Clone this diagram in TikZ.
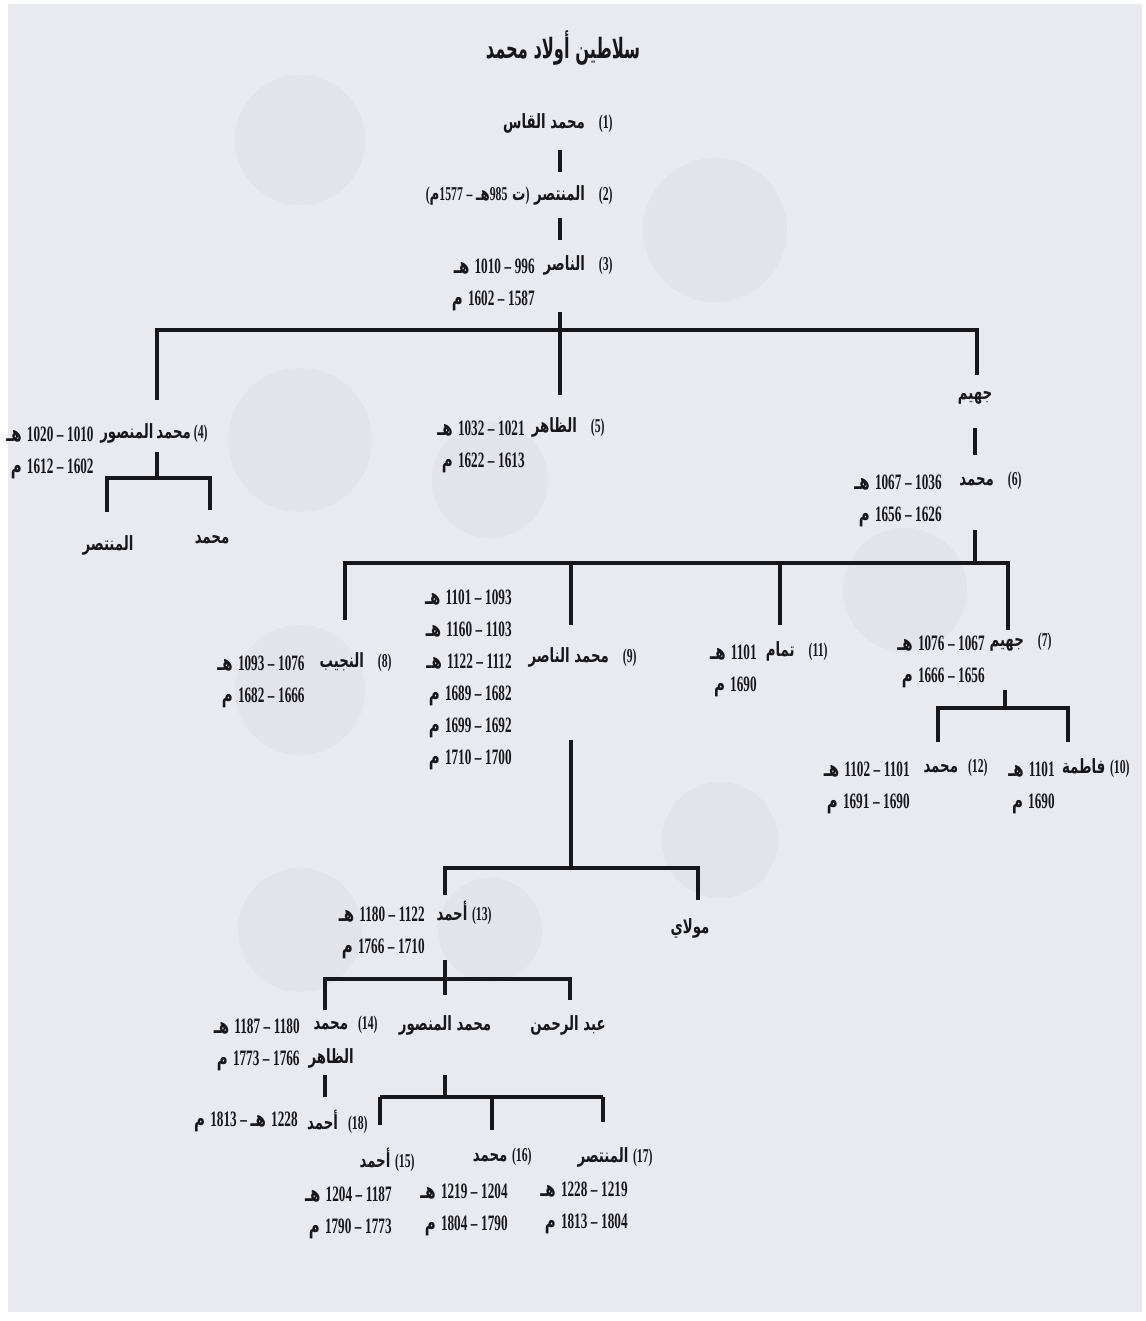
\documentclass[tikz,border=0pt]{standalone}
\usepackage{fontspec}
\TeXXeTstate=1
\newfontfamily\arabicfont[Script=Arabic,FakeStretch=0.68]{DejaVu Sans}
\newfontfamily\titlefont[Script=Arabic,FakeStretch=0.58]{DejaVu Sans}
\newfontfamily\numfont[FakeStretch=0.6]{Liberation Serif}
\newcommand\ar[1]{{\arabicfont\beginR #1\endR}}
\newcommand\nm[1]{{\numfont #1}}
\newcommand\ds{\hspace{1.8pt}\nm{–}\hspace{1.8pt}}
\definecolor{paper}{HTML}{E9EAF0}
\definecolor{ink}{HTML}{17171B}
\definecolor{coin}{HTML}{E3E4EA}
\tikzset{
  nm/.style={anchor=east, inner sep=0pt, text=ink, font=\fontsize{9.8}{14}\selectfont\bfseries},
  lbl/.style={anchor=center, inner sep=0pt, text=ink, font=\fontsize{9.8}{14}\selectfont\bfseries},
  dt/.style={anchor=north east, align=right, inner sep=0pt, text=ink, font=\fontsize{11}{16}\selectfont\bfseries},
  link/.style={line width=1.6pt, draw=ink},
  ttl/.style={anchor=center, inner sep=0pt, text=ink, font=\fontsize{14}{18}\selectfont\bfseries},
}
\begin{document}
\begin{tikzpicture}[x=0.5pt,y=-0.5pt]
\useasboundingbox (0,0) rectangle (1145,1321);
\fill[white] (0,0) rectangle (1145,1321);
\fill[paper] (8,4) rectangle (1142,1312);
% faint coins
\foreach \cx/\cy/\r in {300/140/65, 715/230/72, 300/440/72, 490/480/58, 905/590/62, 300/690/65, 720/840/58, 300/930/62, 490/930/52}
  \fill[coin] (\cx,\cy) circle (\r);

\node[ttl] (title) at (563,48) {{\titlefont\beginR سلاطين أولاد محمد\endR}};

% persons
\node[nm] (n1) at (613,123) {\ar{\nm{(1)}\hspace{7pt}محمد القاس}};
\node[nm] (n2) at (613,195) {\ar{\nm{(2)}\hspace{7pt}المنتصر \nm{)}ت \nm{985}هـ\ds\nm{1577}م\nm{(}}};
\node[nm] (n3) at (613,265) {\ar{\nm{(3)}\hspace{7pt}الناصر}};
\node[dt] (d3) at (535,258) {\ar{\nm{996}\ds\nm{1010} هـ}\\\ar{\nm{1587}\ds\nm{1602} م}};

\node[nm] (n4) at (208,433) {\ar{\nm{(4)}\hspace{1.5pt}محمد\hspace{1.5pt}المنصور}};
\node[dt] (d4) at (94,426) {\ar{\nm{1010}\ds\nm{1020} هـ}\\\ar{\nm{1602}\ds\nm{1612} م}};
\node[lbl] (c4a) at (108,545) {\ar{المنتصر}};
\node[lbl] (c4b) at (212,540) {\ar{محمد}};

\node[nm] (n5) at (605,427) {\ar{\nm{(5)}\hspace{7pt}الظاهر}};
\node[dt] (d5) at (525,420) {\ar{\nm{1021}\ds\nm{1032} هـ}\\\ar{\nm{1613}\ds\nm{1622} م}};

\node[lbl] (jh) at (975,398) {\ar{جهيم}};
\node[nm] (n6) at (1022,481) {\ar{\nm{(6)}\hspace{7pt}محمد}};
\node[dt] (d6) at (942,474) {\ar{\nm{1036}\ds\nm{1067} هـ}\\\ar{\nm{1626}\ds\nm{1656} م}};

\node[nm] (n8) at (392,662) {\ar{\nm{(8)}\hspace{7pt}النجيب}};
\node[dt] (d8) at (305,655) {\ar{\nm{1076}\ds\nm{1093} هـ}\\\ar{\nm{1666}\ds\nm{1682} م}};

\node[nm] (n9) at (637,657) {\ar{\nm{(9)}\hspace{7pt}محمد الناصر}};
\node[dt] (d9) at (512,589) {\ar{\nm{1093}\ds\nm{1101} هـ}\\\ar{\nm{1103}\ds\nm{1160} هـ}\\\ar{\nm{1112}\ds\nm{1122} هـ}\\\ar{\nm{1682}\ds\nm{1689} م}\\\ar{\nm{1692}\ds\nm{1699} م}\\\ar{\nm{1700}\ds\nm{1710} م}};

\node[nm] (n11) at (828,651) {\ar{\nm{(11)}\hspace{7pt}تمام}};
\node[dt] (d11) at (757,644) {\ar{\nm{1101} هـ}\\\ar{\nm{1690} م}};

\node[nm] (n7) at (1052,642) {\ar{\nm{(7)}\hspace{7pt}جهيم}};
\node[dt] (d7) at (985,635) {\ar{\nm{1067}\ds\nm{1076} هـ}\\\ar{\nm{1656}\ds\nm{1666} م}};

\node[nm] (n12) at (988,768) {\ar{\nm{(12)}\hspace{5pt}محمد}};
\node[dt] (d12) at (910,761) {\ar{\nm{1101}\ds\nm{1102} هـ}\\\ar{\nm{1690}\ds\nm{1691} م}};
\node[nm] (n10) at (1130,768) {\ar{\nm{(10)} فاطمة}};
\node[dt] (d10) at (1055,761) {\ar{\nm{1101} هـ}\\\ar{\nm{1690} م}};

\node[nm] (n13) at (492,913) {\ar{\nm{(13)} أحمد}};
\node[dt] (d13) at (425,906) {\ar{\nm{1122}\ds\nm{1180} هـ}\\\ar{\nm{1710}\ds\nm{1766} م}};
\node[lbl] (mw) at (690,928) {\ar{مولاي}};

\node[nm] (n14) at (378,1025) {\ar{\nm{(14)}\hspace{5pt}محمد}};
\node[nm] (n14b) at (354,1058) {\ar{الظاهر}};
\node[dt] (d14) at (300,1018) {\ar{\nm{1180}\ds\nm{1187} هـ}\\\ar{\nm{1766}\ds\nm{1773} م}};
\node[lbl] (mm) at (445,1025) {\ar{محمد المنصور}};
\node[lbl] (ab) at (568,1025) {\ar{عبد الرحمن}};

\node[nm] (n18) at (368,1122) {\ar{\nm{(18)}\hspace{5pt}أحمد}};
\node[dt,anchor=east] (d18) at (298,1122) {\ar{\nm{1228} هـ\ds\nm{1813} م}};

\node[nm] (n15) at (415,1160) {\ar{\nm{(15)} أحمد}};
\node[dt] (d15) at (392,1186) {\ar{\nm{1187}\ds\nm{1204} هـ}\\\ar{\nm{1773}\ds\nm{1790} م}};
\node[nm] (n16) at (532,1157) {\ar{\nm{(16)} محمد}};
\node[dt] (d16) at (508,1183) {\ar{\nm{1204}\ds\nm{1219} هـ}\\\ar{\nm{1790}\ds\nm{1804} م}};
\node[nm] (n17) at (653,1157) {\ar{\nm{(17)} المنتصر}};
\node[dt] (d17) at (628,1181) {\ar{\nm{1219}\ds\nm{1228} هـ}\\\ar{\nm{1804}\ds\nm{1813} م}};

% junction coordinates
\coordinate (a1) at (560,150); \coordinate (a2) at (560,172);
\coordinate (a3) at (560,218); \coordinate (a4) at (560,240);
\coordinate (a5) at (560,312); \coordinate (a6) at (560,395);
\coordinate (b1l) at (157,330); \coordinate (b1r) at (977,330);
\coordinate (b1ld) at (157,400); \coordinate (b1rd) at (977,375);
\coordinate (j1) at (975,428); \coordinate (j2) at (975,455);
\coordinate (m1) at (975,530); \coordinate (m2) at (975,563);
\coordinate (b2l) at (345,563); \coordinate (b2r) at (1008,563);
\coordinate (b2a) at (345,620); \coordinate (b2b0) at (571,563); \coordinate (b2b) at (571,625);
\coordinate (b2c0) at (780,563); \coordinate (b2c) at (780,625); \coordinate (b2d) at (1008,630);
\coordinate (f1) at (157,452); \coordinate (f2) at (157,478);
\coordinate (b4l) at (107,478); \coordinate (b4r) at (210,478);
\coordinate (b4ld) at (107,512); \coordinate (b4rd) at (210,510);
\coordinate (g1) at (1005,690); \coordinate (g2) at (1005,708);
\coordinate (b7l) at (938,708); \coordinate (b7r) at (1068,708);
\coordinate (b7ld) at (938,742); \coordinate (b7rd) at (1068,742);
\coordinate (h1) at (571,740); \coordinate (h2) at (571,868);
\coordinate (b9l) at (445,868); \coordinate (b9r) at (698,868);
\coordinate (b9ld) at (445,895); \coordinate (b9rd) at (698,900);
\coordinate (k1) at (445,960); \coordinate (k2) at (445,995);
\coordinate (b13l) at (325,979); \coordinate (b13r) at (570,979);
\coordinate (b13ld) at (325,1010); \coordinate (b13rd) at (570,1000);
\coordinate (p1) at (325,1075); \coordinate (p2) at (325,1097);
\coordinate (q1) at (445,1075); \coordinate (q2) at (445,1097);
\coordinate (bml) at (380,1097); \coordinate (bmr) at (603,1097);
\coordinate (bmld) at (380,1125); \coordinate (bmm) at (492,1097); \coordinate (bmmd) at (492,1130);
\coordinate (bmrd) at (603,1122);

% connectors
\draw[link] (a1) -- (a2);
\draw[link] (a3) -- (a4);
\draw[link] (a5) -- (a6);
\draw[link] (b1ld) -- (b1l) -- (b1r) -- (b1rd);
\draw[link] (j1) -- (j2);
\draw[link] (m1) -- (m2);
\draw[link] (b2a) -- (b2l) -- (b2r) -- (b2d);
\draw[link] (b2b0) -- (b2b);
\draw[link] (b2c0) -- (b2c);
\draw[link] (f1) -- (f2);
\draw[link] (b4ld) -- (b4l) -- (b4r) -- (b4rd);
\draw[link] (g1) -- (g2);
\draw[link] (b7ld) -- (b7l) -- (b7r) -- (b7rd);
\draw[link] (h1) -- (h2);
\draw[link] (b9ld) -- (b9l) -- (b9r) -- (b9rd);
\draw[link] (k1) -- (k2);
\draw[link] (b13ld) -- (b13l) -- (b13r) -- (b13rd);
\draw[link] (p1) -- (p2);
\draw[link] (q1) -- (q2);
\draw[link] (bml) -- (bmr);
\draw[link] (bmld) -- (bml);
\draw[link] (bmr) -- (bmrd);
\draw[link] (bmm) -- (bmmd);
\end{tikzpicture}
\end{document}
